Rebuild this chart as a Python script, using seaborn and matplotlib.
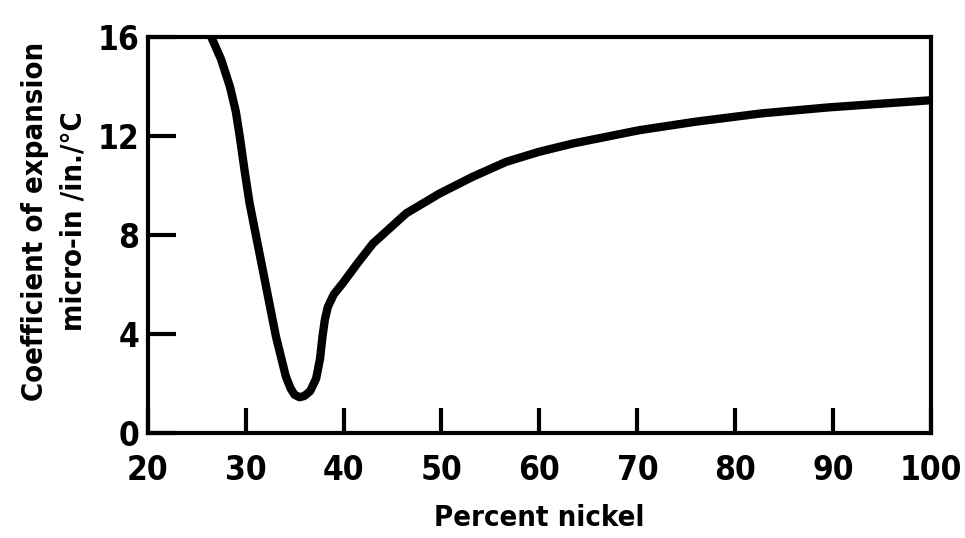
import matplotlib
matplotlib.use('Agg')
import matplotlib.pyplot as plt
import seaborn as sns
import pandas as pd

# values
nickel = [26.5, 27.5, 28.4, 29.0, 29.4, 29.9, 30.4, 31.1, 32.1, 33.1, 34.1, 34.6, 35.0,
          35.5, 36.0, 36.6, 37.2, 37.6, 37.85, 38.1, 38.4, 39.0, 40.0, 41.5, 43.0,
          46.4, 49.8, 53.2, 56.6, 60.0, 63.4, 66.8, 70.2, 75.9, 82.7, 89.5, 96.3, 100.0]
coef = [16.0, 15.1, 14.0, 13.0, 12.0, 10.6, 9.3, 7.9, 5.9, 3.9, 2.3, 1.8, 1.55,
        1.45, 1.5, 1.7, 2.2, 3.0, 3.9, 4.6, 5.1, 5.6, 6.1, 6.9, 7.66,
        8.88, 9.68, 10.36, 10.96, 11.37, 11.7, 11.97, 12.24, 12.58, 12.92, 13.16, 13.35, 13.45]
x_ticks = [20, 30, 40, 50, 60, 70, 80, 90, 100]
y_ticks = [0, 4, 8, 12, 16]

df = pd.DataFrame({'nickel': nickel, 'coef': coef})

sns.set_style('ticks')
plt.rcParams['font.family'] = ['DejaVu Sans']
plt.rcParams['font.stretch'] = 'condensed'
plt.rcParams['text.color'] = 'black'
plt.rcParams['axes.labelcolor'] = 'black'
plt.rcParams['xtick.color'] = 'black'
plt.rcParams['ytick.color'] = 'black'

fig = plt.figure(figsize=(9.65, 5.38), dpi=100)
ax = fig.add_axes([0.153, 0.195, 0.812, 0.736])

sns.lineplot(data=df, x='nickel', y='coef', ax=ax, color='black', linewidth=6,
             sort=False)

ax.set_xlim(20, 100)
ax.set_ylim(0, 16)
ax.set_xticks(x_ticks)
ax.set_yticks(y_ticks)
ax.tick_params(axis='both', direction='in', width=3, color='black',
               labelsize=24, bottom=True, left=True, top=False, right=False)
ax.tick_params(axis='y', length=20, pad=6)
ax.tick_params(axis='x', length=18, pad=15)
for lab in ax.get_xticklabels() + ax.get_yticklabels():
    lab.set_fontweight('bold')

for s in ax.spines.values():
    s.set_visible(True)
    s.set_linewidth(3)
    s.set_color('black')

ax.set_xlabel('Percent nickel', fontsize=21, fontweight='bold', labelpad=12)
ax.set_ylabel('Coefficient of expansion\nmicro-in /in./°C', fontsize=21,
              fontweight='bold', linespacing=1.45)
ax.yaxis.set_label_coords(-0.077, 0.535)

fig.savefig('out.png', dpi=100)
